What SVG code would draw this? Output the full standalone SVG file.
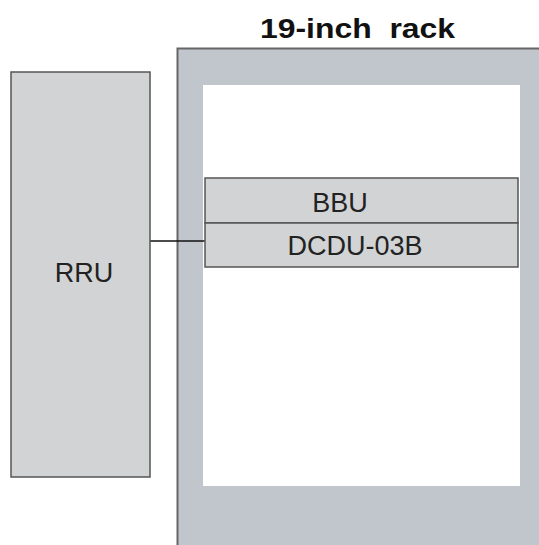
<svg xmlns="http://www.w3.org/2000/svg" width="539" height="545" viewBox="0 0 539 545">
<style>
.lbl{font-family:"Liberation Sans",Arial,sans-serif;font-size:27px;fill:#222;text-anchor:middle}
.title{font-family:"Liberation Sans",Arial,sans-serif;font-size:28px;font-weight:bold;fill:#111;text-anchor:middle}
.box{fill:#d2d3d5;stroke:#555;stroke-width:1.5}
</style>
<rect width="539" height="545" fill="#fff"/>
<g id="rack">
<rect x="177" y="48" width="370" height="505" fill="#c1c5cc"/>
<path d="M177.5 545 V48.5 H539" fill="none" stroke="#666" stroke-width="2"/>
<rect x="203" y="85" width="317" height="401" fill="#fff"/>
<text class="title" transform="translate(357.5,38) scale(1.14,1)" x="0" y="0" xml:space="preserve">19-inch  rack</text>
</g>
<g id="connectors">
<line x1="150" y1="241" x2="205" y2="241" stroke="#111" stroke-width="1.5"/>
</g>
<g id="rru">
<rect class="box" x="11" y="72" width="139" height="405"/>
<text class="lbl" x="84" y="282">RRU</text>
</g>
<g id="bbu">
<rect class="box" x="205" y="178" width="313" height="45"/>
<text class="lbl" x="340" y="212">BBU</text>
</g>
<g id="dcdu">
<rect class="box" x="205" y="223" width="313" height="44"/>
<text class="lbl" x="355" y="255">DCDU-03B</text>
</g>
</svg>
